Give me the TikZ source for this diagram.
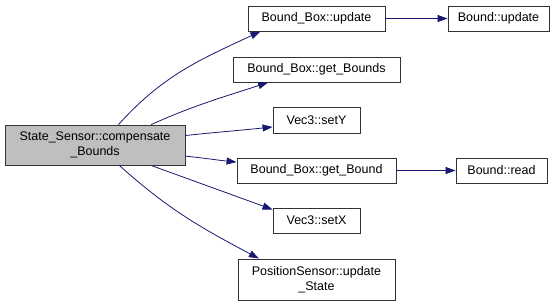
\documentclass[tikz,border=0pt]{standalone}
\usepackage{fontspec}
\setmainfont{Liberation Sans}
\usepackage{tikz}
\usetikzlibrary{arrows.meta}

\definecolor{edgeblue}{HTML}{191970}
\definecolor{rootgray}{HTML}{BFBFBF}

\begin{document}
\begin{tikzpicture}[
    x=1pt, y=-1pt,
    >={Triangle[length=10pt,width=7pt]},
    fn/.style={draw=black!80, line width=0.9pt, fill=white, inner sep=0pt,
        font=\fontsize{12.5}{15}\selectfont, minimum height=25pt, align=center},
    root/.style={fn, fill=rootgray, minimum height=40pt},
    call/.style={->, draw=edgeblue, line width=0.8pt}
]
    \useasboundingbox (0,0) rectangle (560,306);

    \node[root, minimum width=180pt] (compensate) at (95,145) {State\_Sensor::compensate\\\_Bounds};

    \node[fn, minimum width=137pt] (boxupdate) at (316.5,18.5) {Bound\_Box::update};
    \node[fn, minimum width=101pt] (boundupdate) at (498.5,18.5) {Bound::update};
    \node[fn, minimum width=167pt] (getbounds) at (316.5,69.5) {Bound\_Box::get\_Bounds};
    \node[fn, minimum width=87pt, minimum height=26pt] (sety) at (316.5,120) {Vec3::setY};
    \node[fn, minimum width=159pt] (getbound) at (316.5,170.5) {Bound\_Box::get\_Bound};
    \node[fn, minimum width=91pt] (boundread) at (501.5,170.5) {Bound::read};
    \node[fn, minimum width=87pt] (setx) at (316.5,220.5) {Vec3::setX};
    \node[fn, minimum width=157pt, minimum height=41pt] (posupdate) at (316.5,279.5) {PositionSensor::update\\\_State};

    % calls from the root
    \draw[call] (compensate.41) to[out=48, in=205] (boxupdate.193);
    \draw[call] (compensate.20) to[out=24, in=198] (getbounds.195);
    \draw[call] (compensate.6) to[out=6, in=186] (sety.189);
    \draw[call] (compensate.-7) to[out=-6, in=174] (getbound.174);
    \draw[call] (compensate.-20) to[out=-20, in=160] (setx.166);
    \draw[call] (compensate.-40) to[out=-42, in=152] (posupdate.160);

    % second level
    \draw[call] (boxupdate) -- (boundupdate);
    \draw[call] (getbound) -- (boundread);
\end{tikzpicture}
\end{document}
